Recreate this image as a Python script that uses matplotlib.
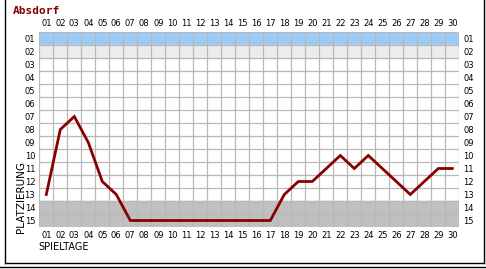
import numpy as np
import matplotlib
matplotlib.use("Agg")
import matplotlib.pyplot as plt
from matplotlib.lines import Line2D

# data
spieltage = list(range(1, 31))
platz = [13, 8, 7, 9, 12, 13, 15, 15, 15, 15, 15, 15, 15, 15, 15, 15, 15,
         13, 12, 12, 11, 10, 11, 10, 11, 12, 13, 12, 11, 11]
n_teams = 15
team = "Absdorf"

W, H = 486, 269
fig = plt.figure(figsize=(W / 100, H / 100), dpi=100)
fig.patch.set_facecolor("white")

ax = fig.add_axes([39.3 / W, 1 - 227 / H, 420 / W, 195 / H])
ax.set_xlim(0.5, 30.5)
ax.set_ylim(n_teams + 0.5, 0.5)

# coloured rows
ax.axhspan(0.5, 1.5, color="#9dcbf7", zorder=0)
ax.axhspan(1.5, 2.5, color="#ececec", zorder=0)
ax.axhspan(13.5, 15.5, color="#c0c0c0", zorder=0)

# grid
for x in np.arange(0.5, 31, 1):
    ax.axvline(x, color="#b8b8b8", lw=0.9, zorder=1)
for y in np.arange(0.5, n_teams + 1, 1):
    ax.axhline(y, color="#b8b8b8", lw=0.9, zorder=1)

ax.plot(spieltage, platz, color="#880000", lw=2.0, zorder=3,
        solid_joinstyle="miter")

for s in ax.spines.values():
    s.set_visible(False)

fs = 6
font = ["Liberation Sans Narrow", "DejaVu Sans"]
xt = ["%02d" % d for d in spieltage]
yt = ["%02d" % p for p in range(1, n_teams + 1)]
ax.set_xticks(spieltage)
ax.set_xticklabels(xt, fontsize=fs, family=font)
ax.set_yticks(range(1, n_teams + 1))
ax.set_yticklabels(yt, fontsize=fs, family=font)
ax.tick_params(axis="both", length=0, pad=3,
               top=True, labeltop=True, right=True, labelright=True)

# texts
fig.text(13 / W, 1 - 11 / H, team, color="#800000", fontsize=8,
         fontweight="bold", family="DejaVu Sans Mono", va="center", ha="left")
fig.text(38 / W, 1 - 247 / H, "SPIELTAGE", fontsize=7, family="DejaVu Sans",
         va="center", ha="left", color="black")
fig.text(21 / W, 1 - 233 / H, "PLATZIERUNG", fontsize=7.5, family="DejaVu Sans",
         rotation=90, va="bottom", ha="center", color="black")

# frame around the picture
fig.add_artist(Line2D([5 / W, 5 / W], [1 - 263 / H, 1.0], color="black", lw=1.0,
                      transform=fig.transFigure))
fig.add_artist(Line2D([484 / W, 484 / W], [1 - 263 / H, 1.0], color="black", lw=1.0,
                      transform=fig.transFigure))
fig.add_artist(Line2D([5 / W, 484 / W], [1 - 263 / H, 1 - 263 / H], color="black",
                      lw=1.0, transform=fig.transFigure))
fig.add_artist(Line2D([0, 1], [1 - 266.5 / H, 1 - 266.5 / H], color="black",
                      lw=1.0, transform=fig.transFigure))

fig.savefig("out.png", dpi=100)
